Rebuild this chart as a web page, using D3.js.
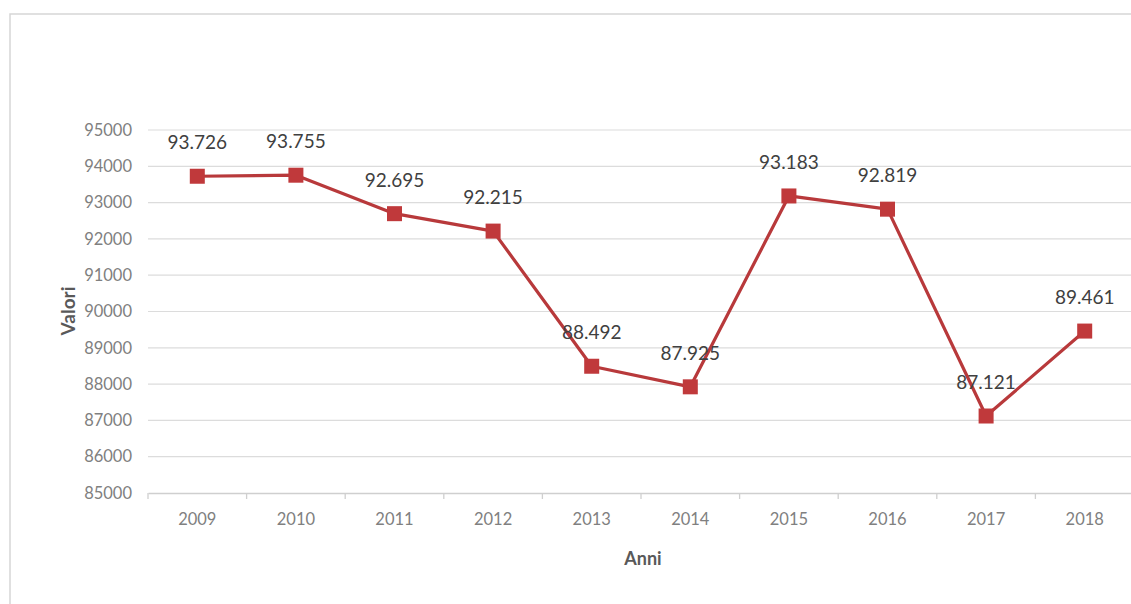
<!DOCTYPE html>
<html><head><meta charset="utf-8">
<script src="https://cdn.jsdelivr.net/npm/d3@7"></script>
<style>
html,body{margin:0;padding:0;background:#fff;}
svg{display:block;}
</style></head>
<body>
<svg id="chart" width="1131" height="604"></svg>
<script>
const years = ["2009","2010","2011","2012","2013","2014","2015","2016","2017","2018"];
const values = [93726, 93755, 92695, 92215, 88492, 87925, 93183, 92819, 87121, 89461];
const yTicks = [85000, 86000, 87000, 88000, 89000, 90000, 91000, 92000, 93000, 94000, 95000];

const svg = d3.select("#chart");
const W = 1131, H = 604;
const font = "Lato, 'Open Sans', sans-serif";

// outer border
svg.append("path")
  .attr("d", `M10,${H+2} L10,14 L${W+2},14`)
  .attr("fill", "none").attr("stroke", "#d6d6d6").attr("stroke-width", 1.5);

const x = d3.scaleBand().domain(years).range([148, 1134]);
const y = d3.scaleLinear().domain([85000, 95000]).range([493, 130]);

// gridlines
svg.append("g").selectAll("line").data(yTicks.filter(t => t !== 85000)).join("line")
  .attr("x1", 148).attr("x2", 1134)
  .attr("y1", d => y(d)).attr("y2", d => y(d))
  .attr("stroke", "#dcdcdc").attr("stroke-width", 1.2);

// y axis labels
const yAxis = d3.axisLeft(y).tickValues(yTicks).tickFormat(d3.format("d")).tickSize(0).tickPadding(0);
const gy = svg.append("g").attr("transform", "translate(132,0)").call(yAxis);
gy.select(".domain").remove();
gy.selectAll("text").attr("font-family", font).attr("font-size", 16.5).attr("fill", "#808080");

// x axis
const xAxis = d3.axisBottom(x).tickSize(0).tickPadding(20);
const gx = svg.append("g").attr("transform", `translate(0,${y(85000)})`).call(xAxis);
gx.select(".domain").attr("stroke", "#cfcfcf").attr("stroke-width", 1.3);
gx.selectAll("text").attr("font-family", font).attr("font-size", 16.5).attr("fill", "#808080");
// tick marks at band boundaries
const bounds = years.map(d => x(d));
svg.append("g").selectAll("line").data(bounds).join("line")
  .attr("x1", d => d).attr("x2", d => d)
  .attr("y1", y(85000)).attr("y2", y(85000) + 6)
  .attr("stroke", "#cfcfcf").attr("stroke-width", 1.3);

// axis titles
svg.append("text")
  .attr("transform", `translate(75,311) rotate(-90)`)
  .attr("text-anchor", "middle")
  .attr("font-family", font).attr("font-size", 19).attr("font-weight", "bold")
  .attr("fill", "#595959").text("Valori");
svg.append("text")
  .attr("x", 643).attr("y", 565)
  .attr("text-anchor", "middle")
  .attr("font-family", font).attr("font-size", 18).attr("font-weight", "bold")
  .attr("fill", "#595959").text("Anni");

const cx = d => x(d) + x.bandwidth() / 2;
const data = years.map((yr, i) => ({yr, v: values[i]}));

// line
const line = d3.line().x(d => cx(d.yr)).y(d => y(d.v));
svg.append("path").datum(data).attr("d", line)
  .attr("fill", "none").attr("stroke", "#b8393b").attr("stroke-width", 3.2)
  .attr("stroke-linejoin", "round");

// markers
const ms = 15;
svg.append("g").selectAll("rect").data(data).join("rect")
  .attr("x", d => cx(d.yr) - ms / 2).attr("y", d => y(d.v) - ms / 2)
  .attr("width", ms).attr("height", ms)
  .attr("fill", "#c0393b");

// data labels
const fmt = v => d3.format(",")(v).replace(/,/g, ".");
svg.append("g").selectAll("text").data(data).join("text")
  .attr("x", d => cx(d.yr)).attr("y", d => y(d.v) - 27)
  .attr("text-anchor", "middle")
  .attr("font-family", font).attr("font-size", 19)
  .attr("fill", "#404040").text(d => fmt(d.v));
</script>
</body></html>
